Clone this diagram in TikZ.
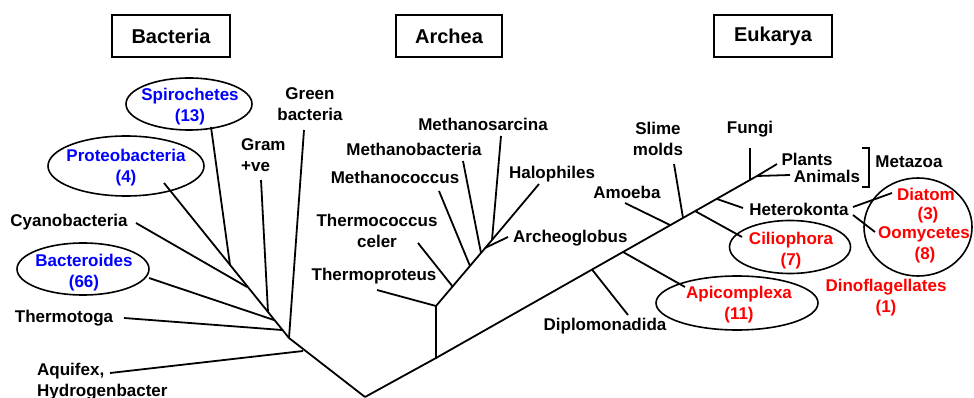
\documentclass[tikz,border=0pt]{standalone}
\usepackage{fontspec}
\setmainfont{Liberation Sans}
\usetikzlibrary{shapes.geometric}
\definecolor{grpblue}{RGB}{0,0,255}
\definecolor{grpred}{RGB}{255,0,0}
\begin{document}
\begin{tikzpicture}[x=1pt,y=-1pt,
lbl/.style={font=\fontsize{17}{21}\selectfont\bfseries,inner sep=0pt,align=center},
dom/.style={draw,line width=1.8pt,font=\fontsize{20}{24}\selectfont\bfseries,minimum height=42pt,inner sep=0pt},
oval/.style={draw,ellipse,line width=1.6pt,inner sep=0pt},
br/.style={line width=1.8pt}]
\useasboundingbox (0,0) rectangle (974,398);
% domain boxes
\node[dom,minimum width=118pt] (bac) at (171,36) {Bacteria};
\node[dom,minimum width=106pt] (arc) at (449,36) {Archea};
\node[dom,minimum width=118pt] (euk) at (773,36) {Eukarya};
% bacteria
\node[oval,minimum width=126pt,minimum height=52pt] (spiroE) at (189,104) {};
\node[lbl,grpblue] (spiro) at (190,107) {Spirochetes\\(13)};
\node[oval,minimum width=156pt,minimum height=60pt] (proteoE) at (126,166) {};
\node[lbl,grpblue] (proteo) at (126,168) {Proteobacteria\\(4)};
\node[oval,minimum width=132pt,minimum height=52pt] (bactE) at (83,269) {};
\node[lbl,grpblue] (bact) at (84,273) {Bacteroides\\(66)};
\node[lbl] (cyano) at (69,222) {Cyanobacteria};
\node[lbl] (tmtoga) at (64,318) {Thermotoga};
\node[lbl,align=left,anchor=west] (aquif) at (37,382) {Aquifex,\\Hydrogenbacter};
\node[lbl,align=left,anchor=west] (gram) at (241,155) {Gram\\+ve};
\node[lbl] (green) at (310,104) {Green\\bacteria};
\coordinate (root) at (365,397);
\coordinate (bnode) at (289,338); \coordinate (bAq) at (303,351);
\coordinate (bTg) at (282,330); \coordinate (bBd) at (274,320);
\coordinate (bGp) at (268,312); \coordinate (bCy) at (247,287);
\coordinate (bSp) at (230,265); \coordinate (bPr) at (164,183);
\coordinate (eAq) at (110,373); \coordinate (eTg) at (124,318);
\coordinate (eBd) at (149,278); \coordinate (eGp) at (261,180);
\coordinate (eCy) at (136,223); \coordinate (eSp) at (211,127);
\coordinate (eGr) at (304,130);
\draw[br] (root)--(bnode)--(bPr);
\draw[br] (bAq)--(eAq); \draw[br] (bTg)--(eTg); \draw[br] (bBd)--(eBd);
\draw[br] (bGp)--(eGp); \draw[br] (bCy)--(eCy); \draw[br] (bSp)--(eSp);
\draw[br] (bnode)--(eGr);
% archea
\node[lbl] (msarc) at (483,124) {Methanosarcina};
\node[lbl] (mbact) at (414,149) {Methanobacteria};
\node[lbl] (mcocc) at (395,177) {Methanococcus};
\node[lbl] (halo) at (552,174) {Halophiles};
\node[lbl] (celer) at (377,231) {Thermococcus\\celer};
\node[lbl] (tprot) at (374,276) {Thermoproteus};
\node[lbl,anchor=west] (aglob) at (513,238) {Archeoglobus};
\coordinate (anode) at (436,358); \coordinate (a1) at (436,306);
\coordinate (a2) at (453,287); \coordinate (a3) at (470,266);
\coordinate (a4) at (481,253); \coordinate (a5) at (485,248);
\coordinate (a6) at (492,240);
\coordinate (eTp) at (377,290); \coordinate (eTc) at (418,243);
\coordinate (eMc) at (439,191); \coordinate (eMb) at (463,161);
\coordinate (eMs) at (501,136); \coordinate (eHa) at (539,184);
\coordinate (eAg) at (508,237);
\draw[br] (root)--(anode)--(a1)--(a6);
\draw[br] (a1)--(eTp); \draw[br] (a2)--(eTc); \draw[br] (a3)--(eMc);
\draw[br] (a4)--(eMb); \draw[br] (a6)--(eMs); \draw[br] (a6)--(eHa);
\draw[br] (a5)--(eAg);
% eukarya
\node[oval,minimum width=162pt,minimum height=54pt] (apiE) at (737,303) {};
\node[lbl,grpred] (api) at (739,305) {Apicomplexa\\(11)};
\node[oval,minimum width=121pt,minimum height=53pt] (cilE) at (790,247) {};
\node[lbl,grpred] (cil) at (791,251) {Ciliophora\\(7)};
\node[oval,minimum width=108pt,minimum height=98pt] (strE) at (918,227) {};
\node[lbl,grpred] (diat) at (926,194) {Diatom};
\node[lbl,grpred] (diatn) at (928,215) {(3)};
\node[lbl,grpred] (oomy) at (924,234) {Oomycetes};
\node[lbl,grpred] (oomyn) at (925,255) {(8)};
\node[lbl,grpred] (dino) at (886,298) {Dinoflagellates\\(1)};
\node[lbl] (diplo) at (605,326) {Diplomonadida};
\node[lbl] (amoeba) at (627,192) {Amoeba};
\node[lbl] (slime) at (658,139) {Slime\\molds};
\node[lbl] (fungi) at (750,129) {Fungi};
\node[lbl] (plants) at (807,159) {Plants};
\node[lbl] (animals) at (827,176) {Animals};
\node[lbl] (metaz) at (909,162) {Metazoa};
\node[lbl] (hetero) at (799,209) {Heterokonta};
\coordinate (eDp) at (592,269.5); \coordinate (eAp) at (623,252);
\coordinate (eAm) at (670,225); \coordinate (eSm) at (683,218);
\coordinate (eCi) at (695,211); \coordinate (eHk) at (717,199);
\coordinate (eFu) at (750,180); \coordinate (eTop) at (757,176);
\coordinate (tDp) at (628,315); \coordinate (tAp) at (685,287);
\coordinate (tAm) at (625,203); \coordinate (tSm) at (674,164);
\coordinate (tCi) at (742,237); \coordinate (tHk) at (743,208);
\coordinate (tFu) at (750,148); \coordinate (tPl) at (777,164);
\coordinate (tAn) at (790,175);
\coordinate (hDi0) at (853,207); \coordinate (hDi) at (892,193);
\coordinate (hOo0) at (853,215); \coordinate (hOo) at (875,232);
\draw[br] (anode)--(eTop);
\draw[br] (eDp)--(tDp); \draw[br] (eAp)--(tAp); \draw[br] (eAm)--(tAm);
\draw[br] (eSm)--(tSm); \draw[br] (eCi)--(tCi); \draw[br] (eHk)--(tHk);
\draw[br] (eFu)--(tFu); \draw[br] (eTop)--(tPl); \draw[br] (eTop)--(tAn);
\draw[br] (hDi0)--(hDi); \draw[br] (hOo0)--(hOo);
\coordinate (bk1) at (862,148); \coordinate (bk2) at (869,148);
\coordinate (bk3) at (869,187); \coordinate (bk4) at (862,187);
\draw[line width=1.4pt] (bk1)--(bk2)--(bk3)--(bk4);
\end{tikzpicture}
\end{document}
